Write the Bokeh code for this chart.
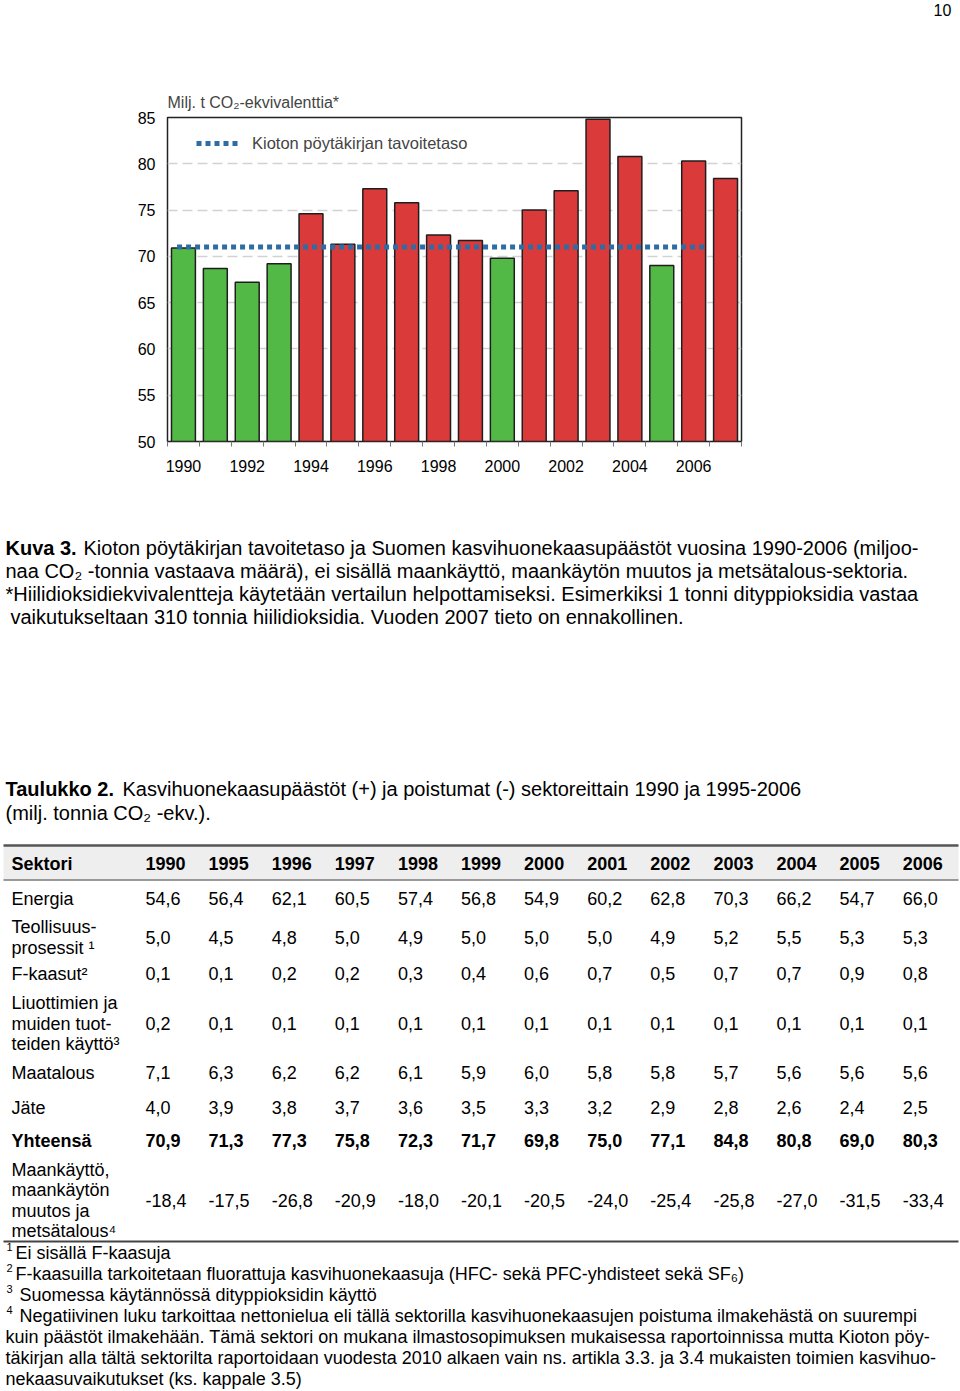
from bokeh.plotting import figure
from bokeh.models import Range1d, FixedTicker, Legend, LegendItem, ColumnDataSource
from bokeh.layouts import column
from bokeh.embed import file_html
from bokeh.resources import INLINE
from bokeh.core.properties import value

FONT = "Liberation Sans"

# ---------------- chart data ----------------
years = list(range(1990, 2008))
emissions = [70.9, 68.7, 67.2, 69.2, 74.6, 71.3, 77.3, 75.8, 72.3, 71.7,
             69.8, 75.0, 77.1, 84.8, 80.8, 69.0, 80.3, 78.4]
kyoto_target = 71.0
kyoto_years = [1989.8, 2006.4]
x_tick_years = [1990, 1992, 1994, 1996, 1998, 2000, 2002, 2004, 2006]
y_ticks = [50, 55, 60, 65, 70, 75, 80, 85]

# ---------------- table data ----------------
table_years = ["1990", "1995", "1996", "1997", "1998", "1999", "2000",
               "2001", "2002", "2003", "2004", "2005", "2006"]
energia = [54.6, 56.4, 62.1, 60.5, 57.4, 56.8, 54.9, 60.2, 62.8, 70.3, 66.2, 54.7, 66.0]
teollisuus = [5.0, 4.5, 4.8, 5.0, 4.9, 5.0, 5.0, 5.0, 4.9, 5.2, 5.5, 5.3, 5.3]
f_kaasut = [0.1, 0.1, 0.2, 0.2, 0.3, 0.4, 0.6, 0.7, 0.5, 0.7, 0.7, 0.9, 0.8]
liuottimet = [0.2, 0.1, 0.1, 0.1, 0.1, 0.1, 0.1, 0.1, 0.1, 0.1, 0.1, 0.1, 0.1]
maatalous = [7.1, 6.3, 6.2, 6.2, 6.1, 5.9, 6.0, 5.8, 5.8, 5.7, 5.6, 5.6, 5.6]
jate = [4.0, 3.9, 3.8, 3.7, 3.6, 3.5, 3.3, 3.2, 2.9, 2.8, 2.6, 2.4, 2.5]
yhteensa = [70.9, 71.3, 77.3, 75.8, 72.3, 71.7, 69.8, 75.0, 77.1, 84.8, 80.8, 69.0, 80.3]
maankaytto = [-18.4, -17.5, -26.8, -20.9, -18.0, -20.1, -20.5, -24.0, -25.4, -25.8, -27.0, -31.5, -33.4]

row_labels = [["Energia"], ["Teollisuus-", "prosessit \u00b9"], ["F-kaasut\u00b2"],
              ["Liuottimien ja", "muiden tuot-", "teiden käyttö\u00b3"], ["Maatalous"], ["Jäte"],
              ["Yhteensä"], ["Maankäyttö,", "maankäytön", "muutos ja", "metsätalous\u2074"]]
row_values = [energia, teollisuus, f_kaasut, liuottimet, maatalous, jate, yhteensa, maankaytto]
row_bold = [False, False, False, False, False, False, True, False]


def text_fig(height, y0, y1):
    f = figure(width=960, height=height, x_range=Range1d(0, 960), y_range=Range1d(y1, y0),
               x_axis_type=None, y_axis_type=None, output_backend="svg", toolbar_location=None,
               min_border=0, outline_line_color=None)
    f.background_fill_color = "white"
    f.border_fill_color = "white"
    try:
        f.frame_align = False
    except Exception:
        pass
    return f


def txt(f, x, y, s, size="18px", bold=False, align="left"):
    f.text(x=[x], y=[y], text=[s], text_font=value(FONT), text_font_size=size,
           text_font_style="bold" if bold else "normal", text_baseline="middle",
           text_align=align, text_color="black")


# ---------------- page number strip ----------------
top = text_fig(30, 0, 30)
txt(top, 942, 9, "10", "16px", align="center")

# ---------------- chart ----------------
colors = ["#52B947" if v < kyoto_target else "#DB3A3B" for v in emissions]
src = ColumnDataSource(dict(year=years, value=emissions, color=colors))

p = figure(width=960, height=460, x_range=Range1d(1989.5, 2007.5), y_range=Range1d(y_ticks[0], y_ticks[-1]),
           output_backend="svg", toolbar_location=None,
           min_border_left=167, min_border_right=219, min_border_top=87, min_border_bottom=49)
try:
    p.frame_align = False
except Exception:
    pass
p.background_fill_color = "white"
p.border_fill_color = "white"
p.outline_line_color = "#222222"
p.outline_line_width = 1.5

p.ygrid.ticker = FixedTicker(ticks=y_ticks)
p.ygrid.grid_line_color = "#D2D2D2"
p.ygrid.grid_line_dash = "10 5"
p.ygrid.grid_line_width = 1.5
p.xgrid.grid_line_color = None

p.vbar(x="year", top="value", bottom=y_ticks[0], width=0.75, source=src,
       fill_color="color", line_color="#1E1E1E", line_width=1.5)
kline = p.line(kyoto_years, [kyoto_target] * len(kyoto_years), line_color="#2E6CA6",
               line_width=5, line_dash="5 4")

p.xaxis.ticker = FixedTicker(ticks=x_tick_years, minor_ticks=[y - 0.5 for y in years] + [years[-1] + 0.5])
p.xaxis.major_tick_in = 0
p.xaxis.major_tick_out = 0
p.xaxis.minor_tick_in = 0
p.xaxis.minor_tick_out = 5
p.xaxis.minor_tick_line_color = "#777777"
p.xaxis.axis_line_color = None
p.xaxis.major_label_standoff = 13
p.xaxis.major_label_text_font = FONT
p.xaxis.major_label_text_font_size = "16px"
p.xaxis.major_label_text_color = "black"

p.yaxis.ticker = FixedTicker(ticks=y_ticks, minor_ticks=[])
p.yaxis.major_tick_in = 0
p.yaxis.major_tick_out = 0
p.yaxis.minor_tick_out = 0
p.yaxis.axis_line_color = None
p.yaxis.major_label_standoff = 12
p.yaxis.major_label_text_font = FONT
p.yaxis.major_label_text_font_size = "16px"
p.yaxis.major_label_text_color = "black"

p.title.text = "Milj. t CO\u2082-ekvivalenttia*"
p.title.align = "left"
p.title.text_font = FONT
p.title.text_font_size = "16px"
p.title.text_font_style = "normal"
p.title.standoff = 14

legend = Legend(items=[LegendItem(label="Kioton pöytäkirjan tavoitetaso", renderers=[kline])],
                location=(29, 288), border_line_color=None, background_fill_alpha=0,
                padding=0, margin=0, glyph_width=45, glyph_height=20, label_standoff=11,
                label_text_font=FONT, label_text_font_size="16.5px")
p.add_layout(legend)

# ---------------- text & table ----------------
t = text_fig(900, 490, 1390)

CAP = "20px"
txt(t, 5, 547, "Kuva 3.", CAP, bold=True)
txt(t, 83, 547, "Kioton pöytäkirjan tavoitetaso ja Suomen kasvihuonekaasupäästöt vuosina 1990-2006 (miljoo-", CAP)
txt(t, 5, 570, "naa CO\u2082 -tonnia vastaava määrä), ei sisällä maankäyttö, maankäytön muutos ja metsätalous-sektoria.", CAP)
txt(t, 5, 593, "*Hiilidioksidiekvivalentteja käytetään vertailun helpottamiseksi. Esimerkiksi 1  tonni dityppioksidia vastaa", CAP)
txt(t, 10, 616, "vaikutukseltaan 310  tonnia hiilidioksidia. Vuoden 2007 tieto on ennakollinen.", CAP)

txt(t, 5, 788, "Taulukko 2.", CAP, bold=True)
txt(t, 122, 788, "Kasvihuonekaasupäästöt (+) ja poistumat (-) sektoreittain 1990 ja 1995-2006", CAP)
txt(t, 5, 812, "(milj. tonnia CO\u2082 -ekv.).", CAP)

# table frame
t.quad(left=3, right=958, top=846, bottom=879, fill_color="#EEEEEE", line_color=None)
t.line([3, 958], [845, 845], line_color="#555555", line_width=2.5)
t.line([3, 958], [879.5, 879.5], line_color="#777777", line_width=1.5)
t.line([3, 958], [1241, 1241], line_color="#444444", line_width=2)

col_x = [145 + 63.1 * i for i in range(len(table_years))]
txt(t, 11, 863, "Sektori", bold=True)
for cx, yr in zip(col_x, table_years):
    txt(t, cx, 863, yr, bold=True)

row_y = [898, 937, 973, 1023, 1072, 1107, 1140, 1200]
for labels, vals, bold, cy in zip(row_labels, row_values, row_bold, row_y):
    n = len(labels)
    for k, lab in enumerate(labels):
        txt(t, 11, cy - (n - 1) / 2 * 20.5 + k * 20.5, lab, bold=bold)
    for cx, v in zip(col_x, vals):
        txt(t, cx, cy, f"{v:.1f}".replace(".", ","), bold=bold)

# footnotes
notes = [("1", 15, 1252, "Ei sisällä F-kaasuja"),
         ("2", 15, 1273, "F-kaasuilla tarkoitetaan fluorattuja kasvihuonekaasuja (HFC- sekä PFC-yhdisteet sekä SF\u2086)"),
         ("3", 19, 1294, "Suomessa käytännössä dityppioksidin käyttö"),
         ("4", 19, 1315, "Negatiivinen luku tarkoittaa nettonielua eli tällä sektorilla kasvihuonekaasujen poistuma ilmakehästä on suurempi")]
for sup, x0, y0, s in notes:
    txt(t, 6, y0 - 6, sup, "11px")
    txt(t, x0, y0, s)
txt(t, 5, 1336, "kuin päästöt ilmakehään. Tämä sektori on mukana ilmastosopimuksen mukaisessa raportoinnissa mutta Kioton pöy-")
txt(t, 5, 1357, "täkirjan alla tältä sektorilta raportoidaan vuodesta 2010 alkaen vain ns. artikla 3.3. ja 3.4 mukaisten toimien kasvihuo-")
txt(t, 5, 1378, "nekaasuvaikutukset (ks. kappale 3.5)")

page = column(top, p, t, spacing=0)
open("out.html", "w").write(file_html(page, INLINE))
